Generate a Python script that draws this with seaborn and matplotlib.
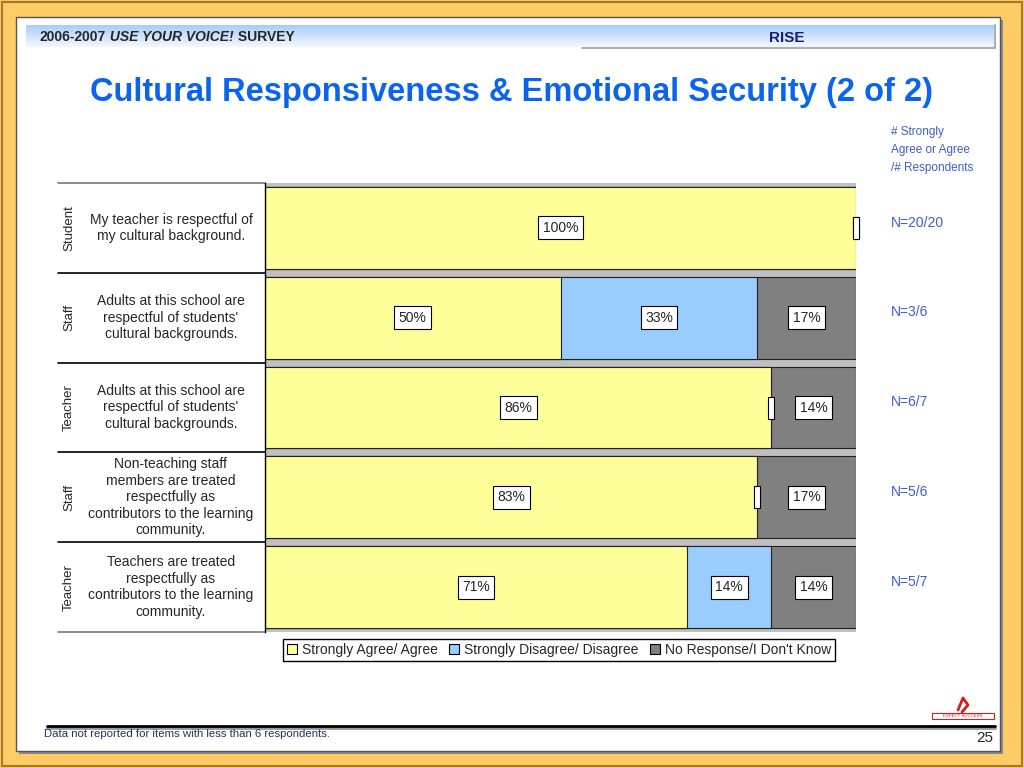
import numpy as np
import pandas as pd
import matplotlib
matplotlib.use('Agg')
import matplotlib.pyplot as plt
import matplotlib.transforms as mtransforms
from matplotlib.patches import Rectangle, Patch
import seaborn as sns

# data (percent of respondents)
groups = ['Student', 'Staff', 'Teacher', 'Staff', 'Teacher']
questions = [
    'My teacher is respectful of\nmy cultural background.',
    'Adults at this school are\nrespectful of students\'\ncultural backgrounds.',
    'Adults at this school are\nrespectful of students\'\ncultural backgrounds.',
    'Non-teaching staff\nmembers are treated\nrespectfully as\ncontributors to the learning\ncommunity.',
    'Teachers are treated\nrespectfully as\ncontributors to the learning\ncommunity.',
]
agree = [100, 50, 85.7, 83.3, 71.4]
disagree = [0, 33.3, 0, 0, 14.3]
no_response = [0, 16.7, 14.3, 16.7, 14.3]
n_labels = ['N=20/20', 'N=3/6', 'N=6/7', 'N=5/6', 'N=5/7']
series_names = ['Strongly Agree/ Agree', 'Strongly Disagree/ Disagree', 'No Response/I Don\'t Know']
colors = ['#FFFF99', '#99CCFF', '#808080']

sns.set_style('white')
plt.rcParams['font.family'] = ['Liberation Sans', 'DejaVu Sans']

fig = plt.figure(figsize=(10.24, 7.68), dpi=100)
fig.patch.set_facecolor('#FFCC66')

# background slide decoration, pixel coordinates
bg = fig.add_axes([0, 0, 1, 1])
bg.set_xlim(0, 1024)
bg.set_ylim(768, 0)
bg.axis('off')
bg.add_patch(Rectangle((2, 2), 1020, 764, facecolor='#FFCC66', edgecolor='#A07830', lw=1.5))
bg.add_patch(Rectangle((19, 20), 984, 734, facecolor='#888888', edgecolor='none'))
bg.add_patch(Rectangle((16, 17), 984, 734, facecolor='white', edgecolor='#555555', lw=1))

grad = np.linspace(0, 1, 50).reshape(-1, 1)
cmap = matplotlib.colors.LinearSegmentedColormap.from_list('hdr', ['#A9CDF5', '#F4F8FE'])
bg.imshow(grad, cmap=cmap, extent=(26, 995, 47, 25), aspect='auto', zorder=1)
bg.plot([582, 995], [47.5, 47.5], color='#B0B0B0', lw=1.5, zorder=2)
bg.plot([995, 995], [25, 48], color='#B0B0B0', lw=1.5, zorder=2)

t1 = bg.text(40, 41, '2006-2007', fontsize=10, fontweight='bold', va='baseline', zorder=3)
t2 = bg.annotate(' USE YOUR VOICE!', xy=(1, 0), xycoords=t1, fontsize=10, fontweight='bold',
                 style='italic', va='bottom', zorder=3)
bg.annotate(' SURVEY', xy=(1, 0), xycoords=t2, fontsize=10, fontweight='bold', va='bottom', zorder=3)
bg.text(787, 38, 'RISE', fontsize=11, fontweight='bold', color='#1A1A80', ha='center', va='center', zorder=3)

bg.text(511, 93, 'Cultural Responsiveness & Emotional Security (2 of 2)', fontsize=23.5,
        fontweight='bold', color='#0A64F0', ha='center', va='center')

for i, line in enumerate(['# Strongly', 'Agree or Agree', '/# Respondents']):
    bg.text(891, 132 + 18 * i, line, fontsize=8.5, color='#3A5FCD', ha='left', va='center',
            family=['Liberation Sans Narrow', 'Liberation Sans'])

# footer
bg.plot([47, 995], [727.5, 727.5], color='#999999', lw=2)
bg.plot([47, 995], [726, 726], color='black', lw=2)
bg.text(44, 734, 'Data not reported for items with less than 6 respondents.', fontsize=8.2,
        color='#1F3366', ha='left', va='center')
bg.text(993, 738, '25', fontsize=11, ha='right', va='center')
bg.add_patch(Rectangle((932, 713), 62, 6, facecolor='white', edgecolor='#D02020', lw=0.8))
bg.text(963, 716, 'EXPECT SUCCESS', fontsize=3.2, color='#D02020', ha='center', va='center')
bg.plot([958, 963, 968, 962], [710, 698, 705, 712], color='#D02020', lw=2)

# chart
ax = fig.add_axes([265 / 1024, 1 - 632 / 768, 591 / 1024, 449 / 768])
ax.set_facecolor('#C0C0C0')

df = pd.DataFrame({'row': [f'q{i}' for i in range(len(agree))],
                   'agree': agree, 'disagree': disagree, 'no_response': no_response})
df['cum1'] = df['agree']
df['cum2'] = df['agree'] + df['disagree']
df['cum3'] = df['cum2'] + df['no_response']

for col, c in zip(['cum3', 'cum2', 'cum1'], colors[::-1]):
    sns.barplot(data=df, x=col, y='row', color=c, saturation=1, width=0.91,
                edgecolor='#222222', linewidth=0.8, orient='h', ax=ax)

ax.set_xlim(0, 100)
ax.set_ylim(len(agree) - 0.5, -0.5)
ax.set_xlabel('')
ax.set_ylabel('')
ax.set_xticks([])
ax.set_yticks([])
for s in ['top', 'right', 'bottom']:
    ax.spines[s].set_visible(False)
ax.spines['left'].set_color('black')
ax.spines['left'].set_linewidth(1)

box = dict(boxstyle='square,pad=0.32', facecolor='white', edgecolor='black', lw=0.8)
zero_marker = [(-0.14, -0.5), (0.14, -0.5), (0.14, 0.5), (-0.14, 0.5), (-0.14, -0.5)]
for i in range(len(agree)):
    starts = [0, df['cum1'][i], df['cum2'][i]]
    vals = [agree[i], disagree[i], no_response[i]]
    for s, v in zip(starts, vals):
        if v > 0:
            ax.text(s + v / 2, i, f'{v:.0f}%', fontsize=10, ha='center', va='center', bbox=box, zorder=5)
        else:
            ax.plot(s, i, marker=zero_marker, markersize=16, markerfacecolor='white',
                    markeredgecolor='black', markeredgewidth=0.8, clip_on=False, zorder=5)

# left table of groups / questions
tr = mtransforms.blended_transform_factory(fig.transFigure, ax.transData)
for k in range(len(agree) + 1):
    y = k - 0.5
    col = '#777777' if k in (0, len(agree)) else 'black'
    ax.plot([58 / 1024, 265 / 1024], [y, y], transform=tr, color=col, lw=1.2, clip_on=False)
for i, (g, q) in enumerate(zip(groups, questions)):
    ax.text(69 / 1024, i, g, transform=tr, rotation=90, fontsize=9.5, ha='center', va='center')
    ax.text(171 / 1024, i, q, transform=tr, fontsize=10, ha='center', va='center',
            multialignment='center', linespacing=1.22)
    ax.text(891 / 1024, i - 0.06, n_labels[i], transform=tr, fontsize=10, color='#3A5FCD',
            ha='left', va='center')

handles = [Patch(facecolor=c, edgecolor='black', lw=0.8) for c in colors]
fig.legend(handles, series_names, loc='center', bbox_to_anchor=(559 / 1024, 1 - 650 / 768),
           ncol=3, fontsize=10, frameon=True, fancybox=False, edgecolor='black',
           handlelength=0.75, handleheight=0.75, handletextpad=0.35, columnspacing=0.8,
           borderpad=0.3, framealpha=1)

fig.savefig('out.png', dpi=100, facecolor=fig.get_facecolor())
